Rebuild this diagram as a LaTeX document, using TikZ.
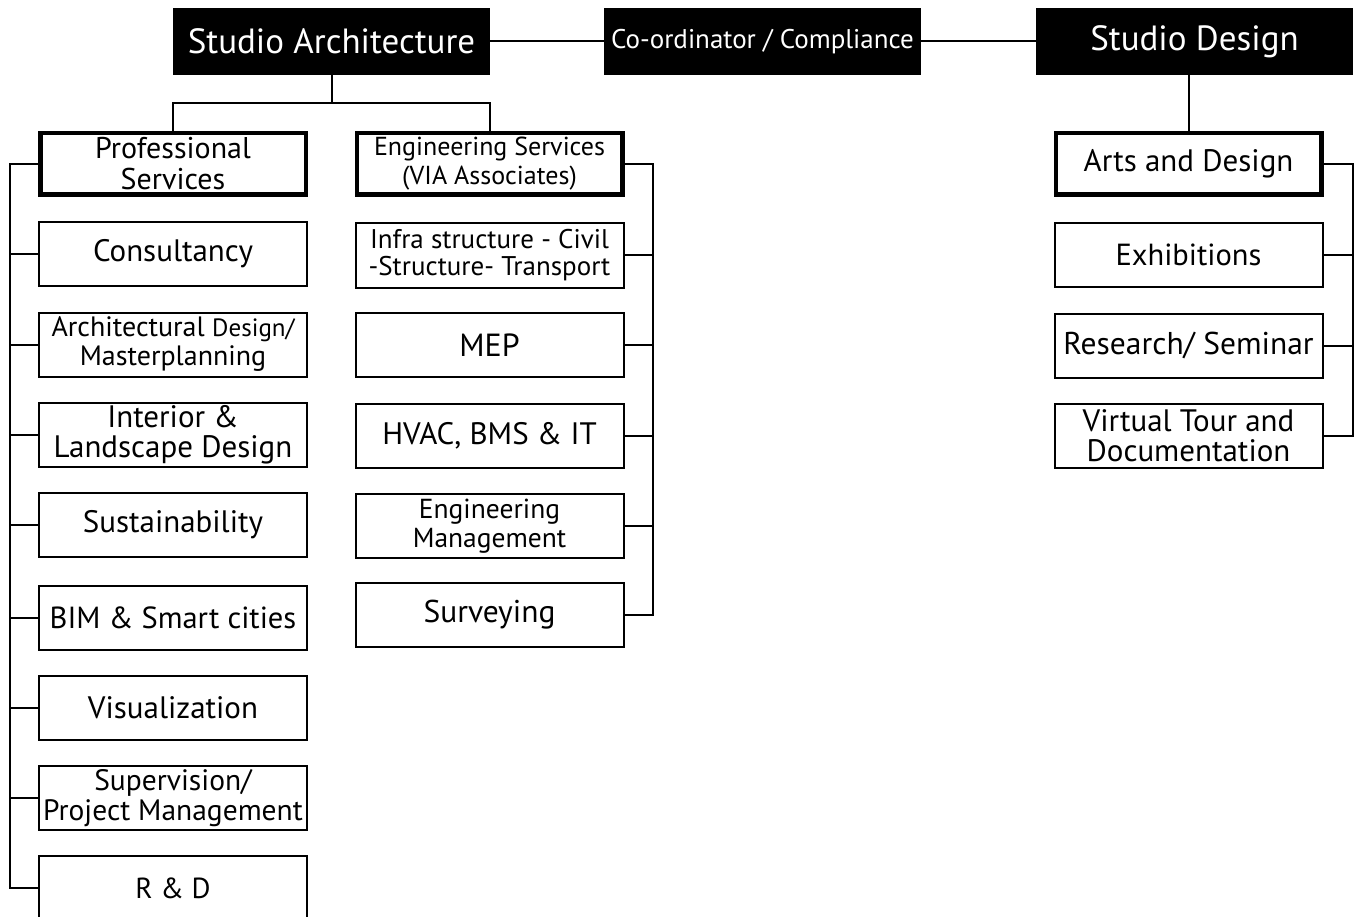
\documentclass[tikz,border=0pt]{standalone}
\usepackage{fontspec}
\setmainfont{PT Sans}
\newcommand{\fs}[1]{\fontsize{#1}{#1}\selectfont}
\begin{document}
\begin{tikzpicture}[x=1pt,y=-1pt,
  hdr/.style={fill=black, text=white, minimum width=317pt, minimum height=67pt, inner sep=0pt, outer sep=0pt},
  subbox/.style={draw, line width=4.5pt, fill=white, minimum width=265.5pt, minimum height=61.5pt, align=center, inner sep=0pt, outer sep=0pt},
  item/.style={draw, line width=2pt, fill=white, minimum width=268pt, minimum height=64pt, align=center, inner sep=0pt, outer sep=0pt},
  conn/.style={line width=2pt}]
\clip (0,0) rectangle (1359,917);
\useasboundingbox (0,0) rectangle (1359,917);
% headers
\node[hdr, font=\fs{35}] (sa) at (331.5,41.5) {Studio Architecture};
\node[hdr, font=\fs{27}] (cc) at (762.5,41.5) {Co-ordinator / Compliance};
\node[hdr, font=\fs{35}] (sd) at (1194.5,41.5) {Studio Design};
% sub heads
\node[subbox, font={\fontsize{30}{31}\selectfont}] (ps) at (173,164) {Professional\\Services};
\node[subbox, font={\fontsize{26}{29}\selectfont}] (es) at (489.5,164) {Engineering Services\\(VIA Associates)};
\node[subbox, font=\fs{31}] (ad) at (1188.5,164) {Arts and Design};
% left column
\node[item, font=\fs{31}] (cons) at (173,254) {Consultancy};
\node[item, font={\fontsize{28}{29}\selectfont}] (arch) at (173,344.5) {Architectural {\fontsize{25}{29}\selectfont Design/}\\Masterplanning};
\node[item, font={\fontsize{31}{30}\selectfont}] (int) at (173,435) {Interior \&\\Landscape Design};
\node[item, font=\fs{31}] (sus) at (173,524.5) {Sustainability};
\node[item, font=\fs{30.5}] (bim) at (173,617.5) {BIM \& Smart cities};
\node[item, font=\fs{31}] (vis) at (173,708) {Visualization};
\node[item, font={\fontsize{29.5}{30}\selectfont}] (sup) at (173,798) {Supervision/\\Project Management};
\node[item, font=\fs{29}] (rd) at (173,888) {R \& D};
% middle column
\node[item, font={\fontsize{27}{27}\selectfont}] (inf) at (489.5,255.5) {Infra structure - Civil\\-Structure- Transport};
\node[item, font=\fs{32}] (mep) at (489.5,345) {MEP};
\node[item, font=\fs{31}] (hvac) at (489.5,436) {HVAC, BMS \& IT};
\node[item, font={\fontsize{27.5}{29}\selectfont}] (em) at (489.5,526) {Engineering\\Management};
\node[item, font=\fs{31.5}] (sur) at (489.5,615) {Surveying};
% right column
\node[item, font=\fs{30.5}] (exh) at (1188.5,255) {Exhibitions};
\node[item, font=\fs{31.5}] (res) at (1188.5,345.5) {Research/ Seminar};
\node[item, font={\fontsize{31}{30}\selectfont}] (vt) at (1188.5,436) {Virtual Tour and\\Documentation};
% connectors top
\draw[conn] (sa) -- (cc);
\draw[conn] (cc) -- (sd);
\coordinate (sj) at (331.5,103);
\draw[conn] (sa.south) -- (sj);
\draw[conn] (ps.north) |- (sj) -| (es.north);
\draw[conn] (sd.south -| ad.north) -- (ad.north);
% left trunk
\coordinate (lt) at (10,164);
\coordinate (lb) at (10,888);
\draw[conn] (ps.west) -- (lt) -- (lb) -- (rd.west);
\foreach \n in {cons,arch,int,sus,bim,vis,sup}
  \draw[conn] (\n.west) -- (\n.west -| lt);
% middle trunk
\coordinate (mt) at (653,164);
\coordinate (mb) at (653,615);
\draw[conn] (es.east) -- (mt) -- (mb) -- (sur.east);
\foreach \n in {inf,mep,hvac,em}
  \draw[conn] (\n.east) -- (\n.east -| mt);
% right trunk
\coordinate (rt) at (1353,164);
\coordinate (rb) at (1353,436);
\draw[conn] (ad.east) -- (rt) -- (rb) -- (vt.east);
\foreach \n in {exh,res}
  \draw[conn] (\n.east) -- (\n.east -| rt);
\end{tikzpicture}
\end{document}
